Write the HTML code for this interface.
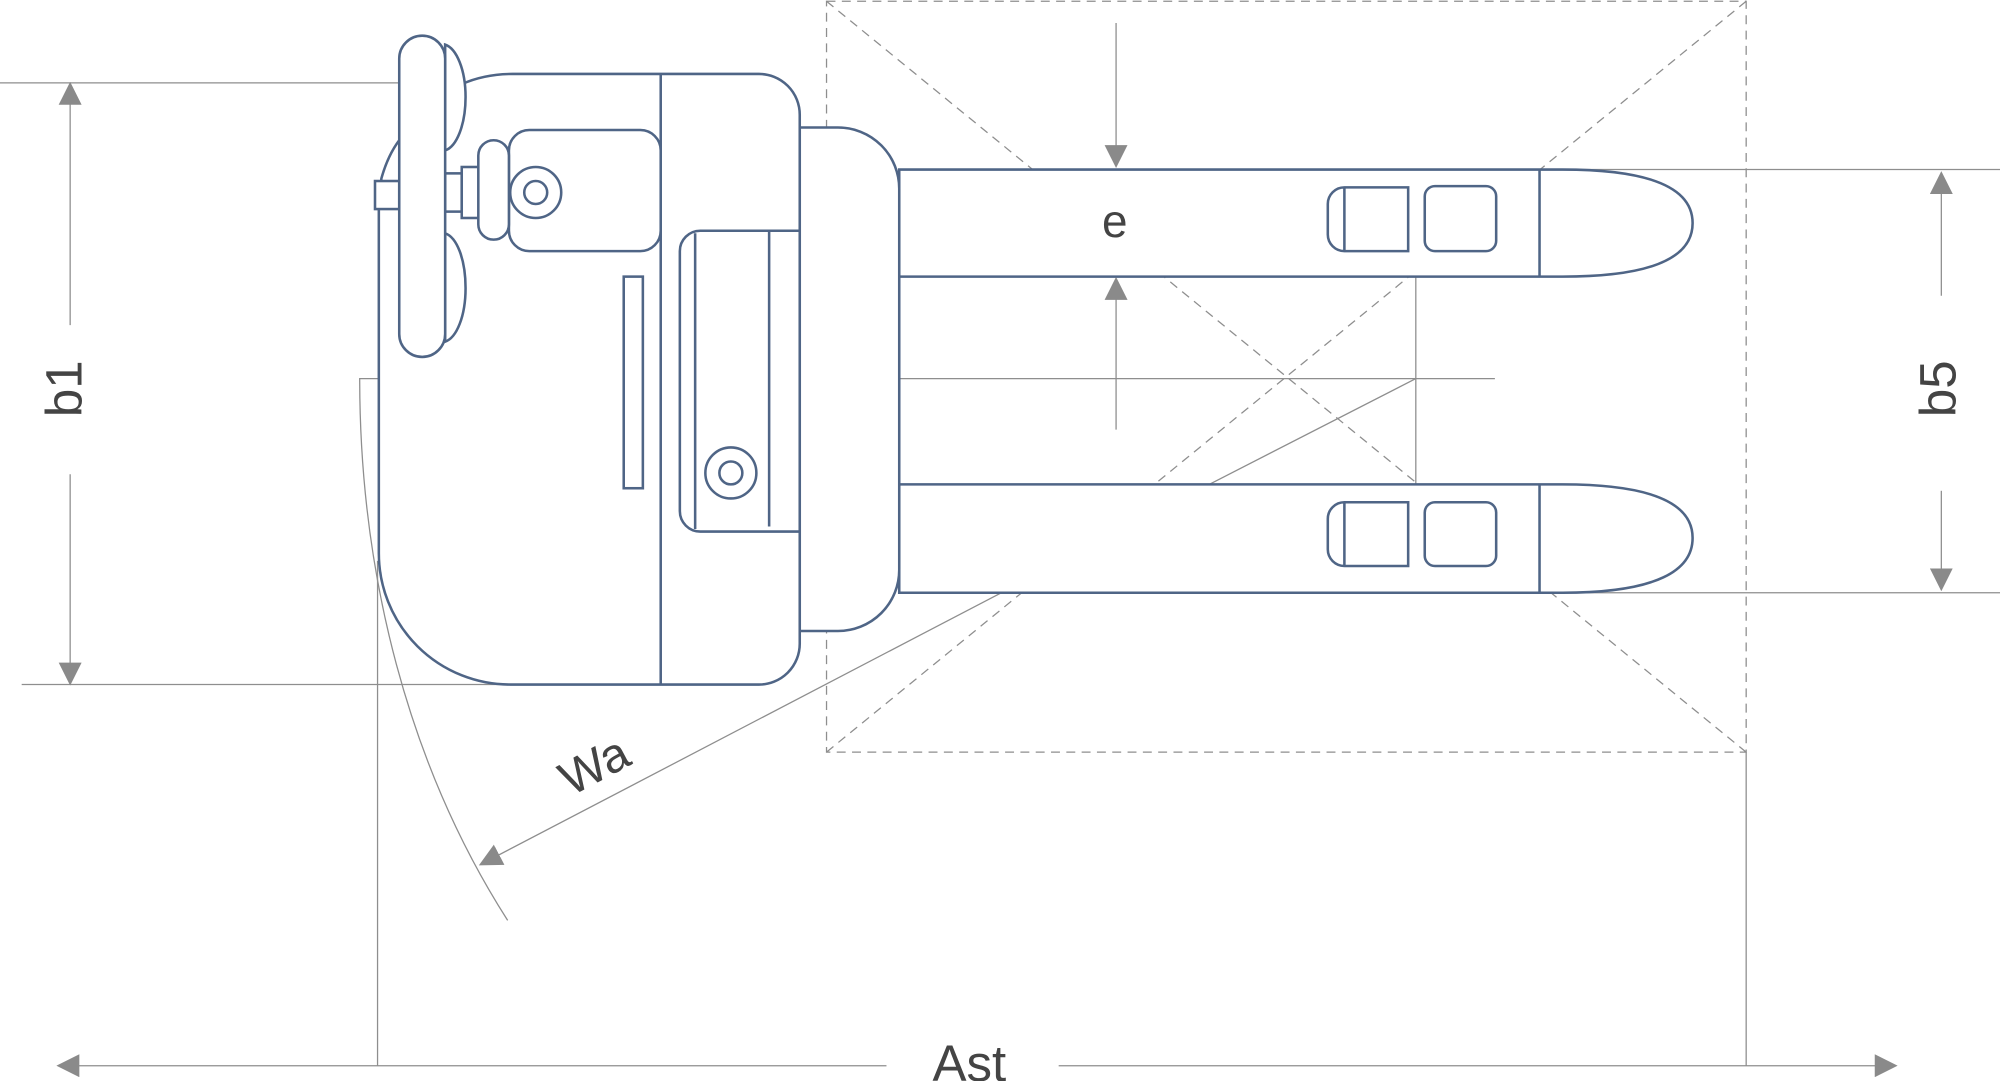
<!DOCTYPE html>
<html><head><meta charset="utf-8"><style>
html,body{margin:0;padding:0;background:#fff;width:2000px;height:1081px;overflow:hidden}
svg{display:block}
text{font-family:"Liberation Sans","DejaVu Sans",sans-serif;fill:#444;font-weight:300}
</style></head><body>
<svg width="2000" height="1081" viewBox="0 0 1568 848" preserveAspectRatio="none" xmlns="http://www.w3.org/2000/svg">
<defs>
<marker id="ah" viewBox="0 0 10 10" refX="9" refY="5" markerWidth="18" markerHeight="18" markerUnits="userSpaceOnUse" orient="auto"><path d="M0,0 L10,5 L0,10 z" fill="#8a8a8a"/></marker>
</defs>
<g stroke="#8e8e8e" stroke-width="1" fill="none">
<g stroke-dasharray="7,5">
<rect x="648" y="1" width="721" height="589"/>
<line x1="648" y1="1" x2="1369" y2="590"/>
<line x1="1369" y1="1" x2="648" y2="590"/>
</g>
<line x1="0" y1="65" x2="313" y2="65"/>
<line x1="17" y1="537" x2="400" y2="537"/>
<line x1="55" y1="255" x2="55" y2="66" marker-end="url(#ah)"/>
<line x1="55" y1="372" x2="55" y2="536" marker-end="url(#ah)"/>
<line x1="1207" y1="133" x2="1568" y2="133"/>
<line x1="1207" y1="465" x2="1568" y2="465"/>
<line x1="1522" y1="232" x2="1522" y2="136" marker-end="url(#ah)"/>
<line x1="1522" y1="385" x2="1522" y2="462" marker-end="url(#ah)"/>
<line x1="875" y1="18" x2="875" y2="130" marker-end="url(#ah)"/>
<line x1="875" y1="337" x2="875" y2="219" marker-end="url(#ah)"/>
<line x1="705" y1="297" x2="1172" y2="297"/>
<line x1="1110" y1="217" x2="1110" y2="380"/>
<line x1="948" y1="380" x2="1110" y2="297"/>
<line x1="785" y1="465" x2="377" y2="678" marker-end="url(#ah)"/>
<path d="M297,297 H282 C282,450 320,600 398,722"/>
<line x1="296" y1="440" x2="296" y2="836"/>
<line x1="1369" y1="590" x2="1369" y2="836"/>
<line x1="695" y1="836" x2="46" y2="836" marker-end="url(#ah)"/>
<line x1="830" y1="836" x2="1486" y2="836" marker-end="url(#ah)"/>
</g>
<g stroke="#4f6586" stroke-width="2" fill="#fff">
<path d="M705,133 H1225 C1300,133 1327,150 1327,175 C1327,200 1300,217 1225,217 H705 Z"/>
<line x1="1207" y1="133" x2="1207" y2="217"/>
<path d="M1054,147 H1104 V197 H1054 A13,13 0 0 1 1041,184 V160 A13,13 0 0 1 1054,147 Z"/>
<line x1="1054" y1="147" x2="1054" y2="197"/>
<rect x="1117" y="146" width="56" height="51" rx="8"/>
<path d="M705,380 H1225 C1300,380 1327,397 1327,422 C1327,447 1300,465 1225,465 H705 Z"/>
<line x1="1207" y1="380" x2="1207" y2="465"/>
<path d="M1054,394 H1104 V444 H1054 A13,13 0 0 1 1041,431 V407 A13,13 0 0 1 1054,394 Z"/>
<line x1="1054" y1="394" x2="1054" y2="444"/>
<rect x="1117" y="394" width="56" height="50" rx="8"/>
<path d="M627,100 H657 A48,48 0 0 1 705,148 V447 A48,48 0 0 1 657,495 H627 Z"/>
<path d="M299,140 Q304,122 313,110 L362,66 Q380,58 402,58 H595 A32,32 0 0 1 627,90 V505 A32,32 0 0 1 595,537 H400 A103,103 0 0 1 297,434 V165 Z"/>
<line x1="518" y1="58" x2="518" y2="537"/>
<rect x="399" y="102" width="119" height="95" rx="16"/>
<circle cx="420" cy="151" r="20"/>
<circle cx="420" cy="151" r="9"/>
<rect x="489" y="217" width="15" height="166"/>
<path d="M627,181 H549 A16,16 0 0 0 533,197 V401 A16,16 0 0 0 549,417 H627" fill="none"/>
<line x1="545" y1="183" x2="545" y2="415"/>
<line x1="603" y1="181" x2="603" y2="413"/>
<circle cx="573" cy="371" r="20"/>
<circle cx="573" cy="371" r="9"/>
<rect x="294" y="142" width="19" height="22"/>
<path d="M349,35 C358,38 365,55 365,76 C365,98 358,115 349,118 Z"/>
<path d="M349,183 C358,186 365,203 365,226 C365,248 358,265 349,268 Z"/>
<rect x="349" y="136" width="13" height="30"/>
<rect x="362" y="131" width="14" height="40"/>
<rect x="375" y="110" width="24" height="78" rx="12"/>
<rect x="313" y="28" width="36" height="252" rx="18"/>
</g>
<text x="0" y="0" font-size="40" transform="translate(64,305) rotate(-90)" text-anchor="middle">b1</text>
<text x="0" y="0" font-size="40" transform="translate(1533,305) rotate(-90)" text-anchor="middle">b5</text>
<text x="874" y="186" font-size="36" text-anchor="middle">e</text>
<text x="0" y="0" font-size="38" transform="translate(472,612) rotate(-28)" text-anchor="middle">Wa</text>
<text x="760" y="848" font-size="40" text-anchor="middle">Ast</text>
</svg>
</body></html>
